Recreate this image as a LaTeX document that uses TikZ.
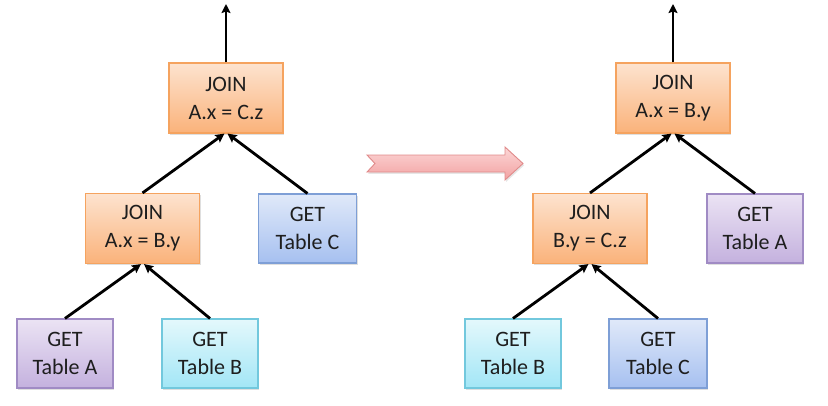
\documentclass[tikz,border=0pt]{standalone}
\usepackage{fontspec}
\setmainfont{Carlito}
\usetikzlibrary{arrows.meta,shadows}
\definecolor{orTop}{HTML}{FDE3CF}
\definecolor{orBot}{HTML}{FAB27A}
\definecolor{orLine}{HTML}{F5A35F}
\definecolor{puTop}{HTML}{EBE3F4}
\definecolor{puBot}{HTML}{C4B1DE}
\definecolor{puLine}{HTML}{A08BC4}
\definecolor{cyTop}{HTML}{E4F8FC}
\definecolor{cyBot}{HTML}{A2E6F6}
\definecolor{cyLine}{HTML}{72C8DD}
\definecolor{blTop}{HTML}{E0E9F9}
\definecolor{blBot}{HTML}{A6C0F0}
\definecolor{blLine}{HTML}{7E9FD6}
\definecolor{piTop}{HTML}{FCD6D6}
\definecolor{piBot}{HTML}{F2A2A2}
\definecolor{piLine}{HTML}{E08A8A}
\definecolor{txt}{HTML}{1E1E1E}
\tikzset{
  box/.style={rectangle, line width=1.1pt, align=center, inner sep=0pt,
    font=\fontsize{22}{28}\selectfont, text=txt,
    drop shadow={shadow xshift=1.2pt, shadow yshift=-1.8pt, opacity=0.25}},
  joinbox/.style={box, minimum width=114pt, minimum height=70pt, draw=orLine, top color=orTop, bottom color=orBot},
  pubox/.style={box, minimum width=96pt, minimum height=69pt, draw=puLine, top color=puTop, bottom color=puBot},
  cybox/.style={box, minimum width=96pt, minimum height=69pt, draw=cyLine, top color=cyTop, bottom color=cyBot},
  blbox/.style={box, minimum width=98pt, minimum height=69pt, draw=blLine, top color=blTop, bottom color=blBot},
  conn/.style={line width=2.8pt, black, -{Stealth[length=9pt,width=9pt,inset=1.5pt]}},
}
\begin{document}
\begin{tikzpicture}[x=1pt,y=-1pt]
\useasboundingbox (0,0) rectangle (828,405);
% left tree
\node[joinbox] (lj1) at (226,98) {JOIN\\A.x = C.z};
\node[joinbox] (lj2) at (142.5,228.5) {JOIN\\A.x = B.y};
\node[blbox] (lc) at (307.5,228.5) {GET\\Table C};
\node[pubox] (la) at (65,353.5) {GET\\Table A};
\node[cybox] (lb) at (210,353.5) {GET\\Table B};
\coordinate (ltop) at (226,4);
\draw[conn] (lj1.north) -- (ltop);
\draw[conn] (la.north) -- ([xshift=-1.5pt]lj2.south);
\draw[conn] (lb.north) -- ([xshift=1.5pt]lj2.south);
\draw[conn] (lj2.north) -- ([xshift=-1.5pt]lj1.south);
\draw[conn] (lc.north) -- ([xshift=1.5pt]lj1.south);
% right tree
\node[joinbox] (rj1) at (673,98) {JOIN\\A.x = B.y};
\node[joinbox] (rj2) at (590,228.5) {JOIN\\B.y = C.z};
\node[pubox] (ra) at (755,228.5) {GET\\Table A};
\node[cybox] (rb) at (513,353.5) {GET\\Table B};
\node[blbox] (rc) at (658,353.5) {GET\\Table C};
\coordinate (rtop) at (673,4);
\draw[conn] (rj1.north) -- (rtop);
\draw[conn] (rb.north) -- ([xshift=-1.5pt]rj2.south);
\draw[conn] (rc.north) -- ([xshift=1.5pt]rj2.south);
\draw[conn] (rj2.north) -- ([xshift=-1.5pt]rj1.south);
\draw[conn] (ra.north) -- ([xshift=1.5pt]rj1.south);
% big arrow
\draw[line width=0.9pt, draw=piLine, top color=piTop, bottom color=piBot,
  drop shadow={shadow xshift=1.2pt, shadow yshift=-1.8pt, opacity=0.2}]
  (367,155) -- (375,163.5) -- (367,172) -- (505,172) -- (505,180)
  -- (523,163.5) -- (505,147) -- (505,155) -- cycle;
\end{tikzpicture}
\end{document}
